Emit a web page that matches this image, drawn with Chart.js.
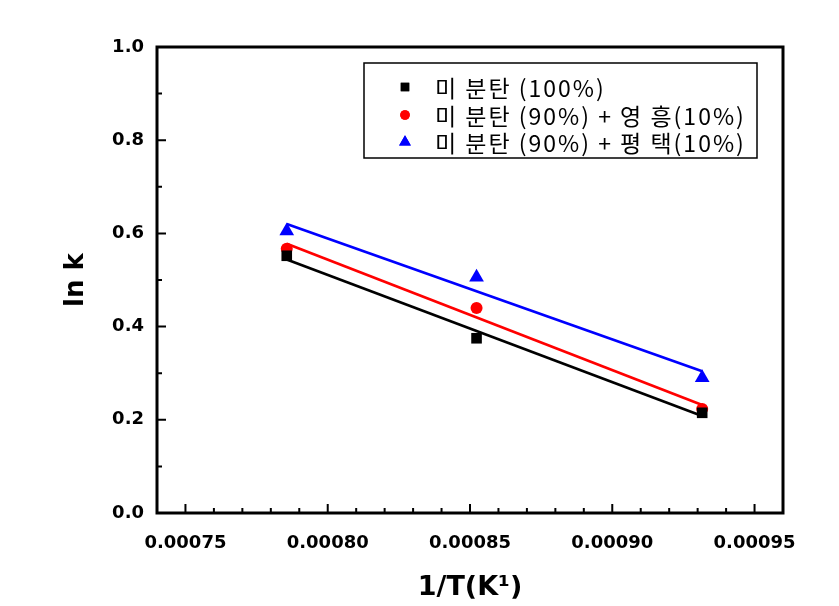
<!DOCTYPE html>
<html>
<head>
<meta charset="utf-8">
<script src="https://cdn.jsdelivr.net/npm/chart.js@4.4.0/dist/chart.umd.min.js"></script>
<style>
  html, body { margin: 0; padding: 0; background: #fff; }
</style>
</head>
<body>
<canvas id="myChart" width="839" height="606"></canvas>
<script>
const invT = [0.0007856, 0.0008523, 0.0009316];
const lnkCoal = [0.552, 0.375, 0.215];
const lnkYeong = [0.567, 0.440, 0.223];
const lnkPyeong = [0.605, 0.506, 0.290];

// linear fit end points
const fitX = [0.0007856, 0.0009316];
const fitCoal = [0.544, 0.208];
const fitYeong = [0.578, 0.232];
const fitPyeong = [0.620, 0.304];

const seriesNames = ['미 분탄 (100%)', '미 분탄 (90%) + 영 흥(10%)', '미 분탄 (90%) + 평 택(10%)'];
const seriesColors = ['#000000', '#ff0000', '#0000ff'];
const xTicks = [0.00075, 0.00080, 0.00085, 0.00090, 0.00095];
const yTicks = [0.0, 0.2, 0.4, 0.6, 0.8, 1.0];

const pts = ys => ys.map((y, i) => ({x: invT[i], y}));
const fit = ys => ys.map((y, i) => ({x: fitX[i], y}));

const data = {
  datasets: [
    {label: seriesNames[0], data: pts(lnkCoal), pointStyle: 'rect', pointRadius: 7.5,
     backgroundColor: seriesColors[0], borderColor: seriesColors[0], borderWidth: 0, showLine: false},
    {label: seriesNames[1], data: pts(lnkYeong), pointStyle: 'circle', pointRadius: 6,
     backgroundColor: seriesColors[1], borderColor: seriesColors[1], borderWidth: 0, showLine: false},
    {label: seriesNames[2], data: pts(lnkPyeong), pointStyle: 'triangle', pointRadius: 8.5,
     backgroundColor: seriesColors[2], borderColor: seriesColors[2], borderWidth: 0, showLine: false},
    {label: 'fit0', data: fit(fitCoal), showLine: true, borderColor: seriesColors[0], borderWidth: 2.7, pointRadius: 0},
    {label: 'fit1', data: fit(fitYeong), showLine: true, borderColor: seriesColors[1], borderWidth: 2.7, pointRadius: 0},
    {label: 'fit2', data: fit(fitPyeong), showLine: true, borderColor: seriesColors[2], borderWidth: 2.7, pointRadius: 0}
  ]
};

// frame, inward ticks and the boxed legend
const frame = {
  id: 'frame',
  afterDraw(chart) {
    const {ctx, chartArea: a, scales: {x, y}} = chart;
    ctx.save();
    ctx.strokeStyle = '#000';
    ctx.lineWidth = 3;
    ctx.strokeRect(a.left, a.top, a.right - a.left, a.bottom - a.top);

    ctx.lineWidth = 2;
    ctx.beginPath();
    yTicks.forEach((v, i) => {
      const py = y.getPixelForValue(v);
      ctx.moveTo(a.left, py); ctx.lineTo(a.left + 9, py);
      if (i < yTicks.length - 1) {
        const my = y.getPixelForValue((v + yTicks[i + 1]) / 2);
        ctx.moveTo(a.left, my); ctx.lineTo(a.left + 5, my);
      }
    });
    xTicks.forEach((v, i) => {
      const px = x.getPixelForValue(v);
      ctx.moveTo(px, a.bottom); ctx.lineTo(px, a.bottom - 9);
      if (i < xTicks.length - 1) {
        for (let k = 1; k < 5; k++) {
          const mx = x.getPixelForValue(v + (xTicks[i + 1] - v) * k / 5);
          ctx.moveTo(mx, a.bottom); ctx.lineTo(mx, a.bottom - 5);
        }
      }
    });
    ctx.stroke();

    // legend
    ctx.lineWidth = 1.5;
    ctx.strokeRect(364, 63, 393, 95);
    ctx.font = '23px "Noto Sans CJK KR"';
    ctx.letterSpacing = '2px';
    ctx.textBaseline = 'middle';
    const rows = [87, 115, 142];
    [0, 1, 2].forEach(i => {
      const ds = chart.data.datasets[i];
      ctx.fillStyle = ds.backgroundColor;
      Chart.helpers.drawPoint(ctx, {pointStyle: ds.pointStyle, radius: ds.pointRadius * 0.8, borderWidth: 0}, 405, rows[i]);
      ctx.fill();
      ctx.fillStyle = '#000';
      ctx.fillText(seriesNames[i], 435, rows[i] + 1);
    });
    ctx.restore();
  }
};

const config = {
  type: 'scatter',
  data,
  options: {
    responsive: false,
    animation: false,
    layout: {padding: {left: 0, top: 47, right: 56, bottom: 0}},
    plugins: {legend: {display: false}, tooltip: {enabled: false}},
    scales: {
      x: {
        type: 'linear',
        min: 0.00074,
        max: 0.00096,
        grid: {display: false},
        border: {display: false},
        afterBuildTicks: s => { s.ticks = xTicks.map(v => ({value: v})); },
        afterFit: s => { s.height = 93; },
        ticks: {
          color: '#000',
          padding: 12,
          maxRotation: 0,
          autoSkip: false,
          font: {family: '"DejaVu Sans"', size: 18, weight: 'bold'},
          callback: v => v.toFixed(5)
        },
        title: {
          display: true,
          text: '1/T(K¹)',
          color: '#000',
          padding: {top: 0, bottom: 2},
          font: {family: '"DejaVu Sans"', size: 27, weight: 'bold'}
        }
      },
      y: {
        min: 0,
        max: 1,
        grid: {display: false},
        border: {display: false},
        afterBuildTicks: s => { s.ticks = yTicks.map(v => ({value: v})); },
        afterFit: s => { s.width = 157; },
        ticks: {
          color: '#000',
          padding: 5,
          font: {family: '"DejaVu Sans"', size: 18, weight: 'bold'},
          callback: v => v.toFixed(1)
        },
        title: {
          display: true,
          text: 'ln k',
          color: '#000',
          padding: {top: 61, bottom: 0},
          font: {family: '"DejaVu Sans"', size: 26, weight: 'bold'}
        }
      }
    }
  },
  plugins: [frame]
};

const myChart = new Chart(document.getElementById('myChart'), config);
</script>
</body>
</html>
